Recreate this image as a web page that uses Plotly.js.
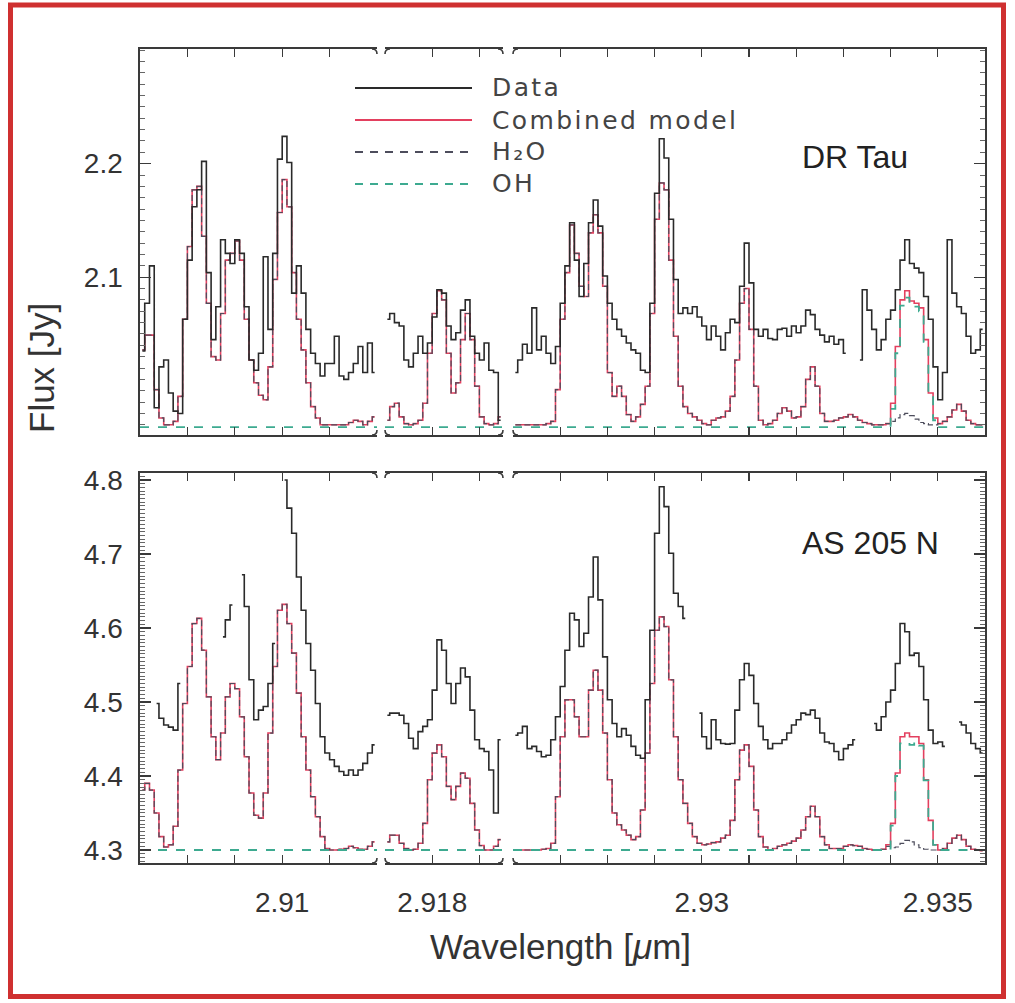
<!DOCTYPE html>
<html><head><meta charset="utf-8">
<script src="https://cdn.plot.ly/plotly-3.0.1.min.js"></script>
<style>html,body{margin:0;padding:0;background:#fff}#chart{width:1015px;height:1003px}</style>
</head><body><div id="chart"></div>
<script>
// ---------------- DATA ----------------
// wavelength sampling (micron): bins of 0.0001 starting at each segment start
const binStep = 0.0001;
const seg1Start = 2.9070, seg1Count = 50;
const seg2Start = 2.9170, seg2Count = 25;
const seg3Start = 2.9260, seg3Count = 100;

// DR Tau (top panel)
const topData1 = [2.035,2.077,2.110,1.985,2.021,2.027,1.998,1.982,1.980,2.063,
 2.115,2.162,2.177,2.202,2.104,2.045,2.074,2.133,2.121,2.112,
 2.133,2.121,2.074,2.027,2.018,2.033,2.118,2.054,2.121,2.204,
 2.224,2.201,2.086,2.110,2.086,2.054,2.033,2.024,2.013,2.024,
 2.024,2.048,2.013,2.010,2.016,2.024,2.039,2.016,2.042,2.016];
const topModel1 = [2.036,2.049,2.049,2.001,1.976,1.970,1.970,1.973,1.995,2.063,
 2.127,2.177,2.180,2.136,2.077,2.030,2.027,2.068,2.115,2.121,
 2.132,2.115,2.063,2.027,2.007,1.996,1.992,2.021,2.098,2.157,
 2.186,2.162,2.104,2.063,2.036,2.007,1.986,1.976,1.970,1.970,
 1.970,1.970,1.970,1.970,1.972,1.974,1.973,1.970,1.973,1.977];
const topH2O1 = [2.036,2.049,2.049,2.001,1.976,1.970,1.970,1.973,1.995,2.063,
 2.127,2.177,2.180,2.136,2.077,2.030,2.027,2.068,2.115,2.121,
 2.132,2.115,2.063,2.027,2.007,1.996,1.992,2.021,2.098,2.157,
 2.186,2.162,2.104,2.063,2.036,2.007,1.986,1.976,1.970,1.970,
 1.970,1.970,1.970,1.970,1.972,1.974,1.973,1.970,1.973,1.977];
const topData2 = [2.063,2.068,2.060,2.057,2.027,2.021,2.033,2.048,2.033,2.042,
 2.065,2.089,2.086,2.057,2.045,2.051,2.071,2.080,2.048,2.033,
 2.027,2.042,2.018,2.016,1.974];
const topModel2 = [1.974,1.986,1.989,1.977,1.971,1.970,1.971,1.974,1.989,2.033,
 2.068,2.088,2.080,2.033,1.998,2.007,2.045,2.068,2.045,2.004,
 1.977,1.971,1.970,1.971,1.977];
const topH2O2 = [1.974,1.986,1.989,1.977,1.971,1.970,1.971,1.974,1.989,2.033,
 2.068,2.088,2.080,2.033,1.998,2.007,2.045,2.068,2.045,2.004,
 1.977,1.971,1.970,1.971,1.977];
const topData3 = [2.016,2.027,2.041,2.033,2.073,2.036,2.048,2.033,2.024,2.039,
 2.077,2.110,2.148,2.115,2.083,2.112,2.148,2.168,2.145,2.101,
 2.077,2.063,2.054,2.048,2.042,2.036,2.033,2.018,2.016,2.077,
 2.174,2.222,2.205,2.151,2.098,2.068,2.073,2.068,2.074,2.065,
 2.057,2.045,2.057,2.048,2.036,2.051,2.063,2.060,2.092,2.130,
 2.095,2.054,2.048,2.054,2.046,2.045,2.054,2.055,2.048,2.057,
 2.051,2.057,2.071,2.067,2.054,2.049,2.043,2.048,2.041,2.045,
 2.033,null,null,2.027,2.089,2.071,2.054,2.036,2.045,2.063,
 2.071,2.089,2.115,2.133,2.112,2.108,2.104,2.083,2.063,2.021,
 1.992,2.016,2.133,2.086,2.074,2.068,2.048,2.033,2.036,2.054];
const topModel3 = [1.970,1.970,1.970,1.970,1.970,1.970,1.970,1.971,1.973,2.001,
 2.063,2.104,2.146,2.121,2.092,2.083,2.139,2.155,2.139,2.092,
 2.016,1.995,2.004,1.995,1.979,1.973,1.977,1.988,2.004,2.068,
 2.151,2.183,2.177,2.115,2.048,2.004,1.986,1.980,1.977,1.974,
 1.971,1.970,1.974,1.976,1.977,1.982,1.995,2.027,2.077,2.090,
 2.054,2.004,1.974,1.970,1.971,1.974,1.980,1.985,1.982,1.976,
 1.977,1.986,2.010,2.021,2.004,1.980,1.973,1.973,1.974,1.976,
 1.977,1.979,1.977,1.974,1.972,1.971,1.970,1.970,1.970,1.971,
 1.989,2.039,2.080,2.088,2.079,2.077,2.073,2.045,1.998,1.976,
 1.971,1.973,1.977,1.983,1.988,1.982,1.974,1.971,1.970,1.970];
const topH2O3 = [1.970,1.970,1.970,1.970,1.970,1.970,1.970,1.971,1.973,2.001,
 2.063,2.104,2.146,2.121,2.092,2.083,2.139,2.155,2.139,2.092,
 2.016,1.995,2.004,1.995,1.979,1.973,1.977,1.988,2.004,2.068,
 2.151,2.183,2.177,2.115,2.048,2.004,1.986,1.980,1.977,1.974,
 1.971,1.970,1.974,1.976,1.977,1.982,1.995,2.027,2.077,2.090,
 2.054,2.004,1.974,1.970,1.971,1.974,1.980,1.985,1.982,1.976,
 1.977,1.986,2.010,2.021,2.004,1.980,1.973,1.973,1.974,1.976,
 1.977,1.979,1.977,1.974,1.972,1.971,1.970,1.970,1.970,1.971,
 1.973,1.976,1.979,1.980,1.978,1.975,1.972,1.971,1.970,1.970,
 1.971,1.973,1.977,1.983,1.988,1.982,1.974,1.971,1.970,1.970];

// OH model (sparse: flat continuum plus the line near 2.9344 um)
const ohWave1 = [2.9070, 2.9120];
const ohWave2 = [2.9170, 2.9195];
const ohWave3 = [2.9260,2.93385,2.93395,2.93405,2.93415,2.93425,2.93435,2.93445,
 2.93455,2.93465,2.93475,2.93485,2.93495,2.93505,2.9360];
const topOH1 = [1.968, 1.968];
const topOH2 = [1.968, 1.968];
const topOH3 = [1.968,1.968,1.968,1.984,2.033,2.075,2.082,2.076,2.074,2.070,2.043,1.996,1.974,1.968,1.968];

// AS 205 N (bottom panel)
const botData1 = [null,null,null,4.498,4.478,4.469,4.466,4.462,4.525,null,
 null,null,null,null,null,null,null,4.588,4.611,4.631,
 null,4.672,4.629,4.530,4.476,4.489,4.494,4.525,4.579,null,
 4.800,4.762,4.728,4.669,4.624,4.579,4.543,4.498,4.453,4.431,
 4.422,4.413,4.406,4.401,4.408,4.401,4.408,4.417,4.431,4.442];
const botModel1 = [4.381,4.390,4.381,4.350,4.318,4.304,4.307,4.332,4.408,4.498,
 4.548,4.606,4.613,4.570,4.507,4.453,4.422,4.458,4.507,4.525,
 4.518,4.480,4.426,4.377,4.347,4.343,4.377,4.458,4.548,4.624,
 4.632,4.606,4.566,4.512,4.453,4.408,4.372,4.345,4.318,4.302,
 4.300,4.300,4.301,4.302,4.305,4.303,4.301,4.301,4.305,4.311];
const botH2O1 = [4.381,4.390,4.381,4.350,4.318,4.304,4.307,4.332,4.408,4.498,
 4.548,4.606,4.613,4.570,4.507,4.453,4.422,4.458,4.507,4.525,
 4.518,4.480,4.426,4.377,4.347,4.343,4.377,4.458,4.548,4.624,
 4.632,4.606,4.566,4.512,4.453,4.408,4.372,4.345,4.318,4.302,
 4.300,4.300,4.301,4.302,4.305,4.303,4.301,4.301,4.305,4.311];
const botData2 = [4.482,4.485,4.485,4.482,4.471,4.451,4.437,4.460,4.467,4.476,
 4.516,4.584,4.570,4.525,4.498,4.525,4.546,4.534,4.489,4.449,
 4.437,4.433,4.408,4.350,4.449];
const botModel2 = [4.311,4.320,4.320,4.309,4.302,4.300,4.301,4.309,4.336,4.395,
 4.431,4.442,4.426,4.386,4.368,4.386,4.404,4.397,4.363,4.327,
 4.306,4.300,4.300,4.305,4.314];
const botH2O2 = [4.311,4.320,4.320,4.309,4.302,4.300,4.301,4.309,4.336,4.395,
 4.431,4.442,4.426,4.386,4.368,4.386,4.404,4.397,4.363,4.327,
 4.306,4.300,4.300,4.305,4.314];
const botData3 = [4.455,4.458,4.467,4.437,4.440,4.433,4.426,4.428,4.449,4.480,
 4.521,4.570,4.620,4.611,4.575,4.593,4.642,4.696,4.638,4.561,
 4.503,4.471,4.453,4.464,4.455,4.440,4.428,4.424,4.503,4.597,
 4.728,4.791,4.764,4.701,4.647,4.629,4.613,null,null,4.485,
 4.453,4.437,4.476,4.449,4.444,4.443,4.444,4.489,4.530,4.552,
 4.536,4.498,4.467,4.449,4.437,4.444,4.444,4.449,4.458,4.469,
 4.476,4.485,4.483,4.489,4.478,4.458,4.446,4.444,4.433,4.422,
 4.437,4.442,4.449,null,null,null,4.471,4.462,4.480,4.500,
 4.516,4.552,4.606,4.595,4.563,4.566,4.548,4.503,4.462,4.444,
 4.446,4.440,null,null,4.473,4.469,4.458,4.444,4.437,4.431];
const botModel3 = [4.300,4.300,4.300,4.300,4.300,4.300,4.301,4.302,4.309,4.372,
 4.453,4.503,4.503,4.480,4.453,4.453,4.516,4.543,4.516,4.458,
 4.395,4.350,4.334,4.327,4.320,4.314,4.318,4.354,4.431,4.525,
 4.597,4.615,4.602,4.530,4.453,4.395,4.363,4.336,4.318,4.309,
 4.307,4.308,4.310,4.311,4.316,4.320,4.340,4.395,4.435,4.442,
 4.413,4.354,4.318,4.304,4.300,4.302,4.305,4.307,4.309,4.312,
 4.316,4.327,4.345,4.359,4.345,4.318,4.307,4.302,4.302,4.302,
 4.305,4.307,4.306,4.305,4.302,4.301,4.300,4.300,4.301,4.307,
 4.336,4.404,4.453,4.458,4.453,4.453,4.444,4.395,4.340,4.307,
 4.300,4.302,4.309,4.316,4.320,4.314,4.305,4.301,4.300,4.299];
const botH2O3 = [4.300,4.300,4.300,4.300,4.300,4.300,4.301,4.302,4.309,4.372,
 4.453,4.503,4.503,4.480,4.453,4.453,4.516,4.543,4.516,4.458,
 4.395,4.350,4.334,4.327,4.320,4.314,4.318,4.354,4.431,4.525,
 4.597,4.615,4.602,4.530,4.453,4.395,4.363,4.336,4.318,4.309,
 4.307,4.308,4.310,4.311,4.316,4.320,4.340,4.395,4.435,4.442,
 4.413,4.354,4.318,4.304,4.300,4.302,4.305,4.307,4.309,4.312,
 4.316,4.327,4.345,4.359,4.345,4.318,4.307,4.302,4.302,4.302,
 4.305,4.307,4.306,4.305,4.302,4.301,4.300,4.300,4.301,4.305,
 4.303,4.304,4.309,4.313,4.311,4.307,4.303,4.301,4.300,4.300,
 4.300,4.302,4.309,4.316,4.320,4.314,4.305,4.301,4.300,4.299];
const botOH1 = [4.300, 4.300];
const botOH2 = [4.300, 4.300];
const botOH3 = [4.300,4.300,4.302,4.333,4.400,4.444,4.445,4.442,4.446,4.441,4.394,4.340,4.307,4.300,4.300];

// tick values / labels
const seg1Ticks = [2.908, 2.909, 2.910, 2.911];
const seg1Labels = ['', '', '2.91', ''];
const seg2Ticks = [2.918, 2.919];
const seg2Labels = ['2.918', ''];
const seg3Ticks = [2.927, 2.928, 2.929, 2.930, 2.931, 2.932, 2.933, 2.934, 2.935];
const seg3Labels = ['', '', '', '2.93', '', '', '', '', '2.935'];
const topYTicks = [2.1, 2.2];
const topYLabels = ['2.1', '2.2'];
const botYTicks = [4.3, 4.4, 4.5, 4.6, 4.7, 4.8];
const botYLabels = ['4.3', '4.4', '4.5', '4.6', '4.7', '4.8'];
const seriesNames = ['Data', 'Combined model', 'H₂O', 'OH'];
const panelNames = ['DR Tau', 'AS 205 N'];

// ---------------- BUILD ----------------
function grid(start, n) { const a = []; for (let i = 0; i < n; i++) a.push(+(start + (i + 0.5) * binStep).toFixed(6)); return a; }
const wave1 = grid(seg1Start, seg1Count), wave2 = grid(seg2Start, seg2Count), wave3 = grid(seg3Start, seg3Count);

const W = 1015, H = 1003;
const px = v => v / W, py = v => 1 - v / H;
const segPx = [[140, 377], [385, 503], [513, 985]];
const panelPx = [[49, 435], [473, 863]];
const segRange = [[2.9070, 2.9120], [2.9170, 2.9195], [2.9260, 2.9360]];
const yRanges = [[1.961, 2.301], [4.2824, 4.8095]];

const colData = '#2a2a2a', colModel = '#e3405f', colH2O = '#4d4d5c', colOH = '#3daa90', colAxis = '#3a3a3a';

const waves = [wave1, wave2, wave3];
const ohWaves = [ohWave1, ohWave2, ohWave3];
const panels = [
  {data: [topData1, topData2, topData3], model: [topModel1, topModel2, topModel3], h2o: [topH2O1, topH2O2, topH2O3], oh: [topOH1, topOH2, topOH3]},
  {data: [botData1, botData2, botData3], model: [botModel1, botModel2, botModel3], h2o: [botH2O1, botH2O2, botH2O3], oh: [botOH1, botOH2, botOH3]}
];

const traces = [];
panels.forEach((p, pi) => {
  for (let s = 0; s < 3; s++) {
    const n = pi * 3 + s + 1;
    const xa = n === 1 ? 'x' : 'x' + n, ya = n === 1 ? 'y' : 'y' + n;
    traces.push({x: waves[s], y: p.model[s], xaxis: xa, yaxis: ya, mode: 'lines', name: seriesNames[1],
      line: {color: colModel, width: 1.6, shape: 'hvh'}, showlegend: false, hoverinfo: 'skip'});
    traces.push({x: waves[s], y: p.h2o[s], xaxis: xa, yaxis: ya, mode: 'lines', name: seriesNames[2],
      line: {color: colH2O, width: 1.2, shape: 'hvh', dash: '6px,3px'}, showlegend: false, hoverinfo: 'skip'});
    traces.push({x: ohWaves[s], y: p.oh[s], xaxis: xa, yaxis: ya, mode: 'lines', name: seriesNames[3],
      line: {color: colOH, width: 1.8, shape: 'hvh', dash: '9px,9px'}, showlegend: false, hoverinfo: 'skip'});
    traces.push({x: waves[s], y: p.data[s], xaxis: xa, yaxis: ya, mode: 'lines', name: seriesNames[0],
      line: {color: colData, width: 1.6, shape: 'hvh'}, connectgaps: false, showlegend: false, hoverinfo: 'skip'});
  }
});

const tickFont = {family: 'Liberation Sans, Arial, sans-serif', size: 28, color: '#333'};
const xTicks = [[seg1Ticks, seg1Labels], [seg2Ticks, seg2Labels], [seg3Ticks, seg3Labels]];
const layout = {
  width: W, height: H, margin: {l: 0, r: 0, t: 0, b: 0, pad: 0},
  paper_bgcolor: '#fff', plot_bgcolor: 'rgba(0,0,0,0)', showlegend: false,
  shapes: [], annotations: []
};
for (let pi = 0; pi < 2; pi++) {
  for (let s = 0; s < 3; s++) {
    const n = pi * 3 + s + 1;
    const xk = n === 1 ? 'xaxis' : 'xaxis' + n, yk = n === 1 ? 'yaxis' : 'yaxis' + n;
    const xid = n === 1 ? 'x' : 'x' + n, yid = n === 1 ? 'y' : 'y' + n;
    layout[xk] = {
      domain: [px(segPx[s][0]), px(segPx[s][1])], range: segRange[s], anchor: yid,
      showline: true, linecolor: colAxis, linewidth: 1.6, mirror: 'ticks',
      ticks: 'inside', ticklen: 8, tickwidth: 1.2, tickcolor: colAxis,
      tickmode: 'array', tickvals: xTicks[s][0], ticktext: xTicks[s][1],
      showticklabels: pi === 1, tickfont: tickFont, ticklabelstandoff: 14,
      showgrid: false, zeroline: false, fixedrange: true
    };
    const yv = pi === 0 ? topYTicks : botYTicks, yl = pi === 0 ? topYLabels : botYLabels;
    layout[yk] = {
      domain: [py(panelPx[pi][1]), py(panelPx[pi][0])], range: yRanges[pi], anchor: xid,
      visible: s !== 1, side: s === 2 ? 'right' : 'left',
      showline: true, linecolor: colAxis, linewidth: 1.6, mirror: false,
      ticks: 'inside', ticklen: 11, tickwidth: 1.2, tickcolor: colAxis,
      tickmode: 'array', tickvals: yv, ticktext: yl,
      minor: {ticks: 'inside', ticklen: 5, tickwidth: 1, tickcolor: '#666', tickmode: 'linear', tick0: pi === 0 ? 1.96 : 4.28, dtick: pi === 0 ? 0.01 : 0.005, showgrid: false},
      showticklabels: s === 0, tickfont: tickFont, ticklabelstandoff: 10,
      showgrid: false, zeroline: false, fixedrange: true
    };
  }
}

// segment break curls
function curl(x, y, dx, dy) {
  return {type: 'path', xref: 'paper', yref: 'paper', layer: 'above',
    path: `M ${px(x + dx * 5)} ${py(y)} Q ${px(x)} ${py(y)} ${px(x)} ${py(y + dy * 5)}`,
    line: {color: colAxis, width: 1.6}};
}
panelPx.forEach(([top, bot]) => {
  [[377, -1], [385, 1], [503, -1], [513, 1]].forEach(([x, d]) => {
    layout.shapes.push(curl(x, top, d, 1));
    layout.shapes.push(curl(x, bot, d, -1));
  });
});

// legend (manual)
const legY = [88, 120, 152, 184];
const legStyle = [
  {color: colData, width: 1.8}, {color: colModel, width: 1.8},
  {color: colH2O, width: 1.8, dash: '8px,7px'}, {color: colOH, width: 1.8, dash: '8px,7px'}
];
legY.forEach((y, i) => {
  layout.shapes.push({type: 'line', xref: 'paper', yref: 'paper', x0: px(355), x1: px(472), y0: py(y), y1: py(y), line: legStyle[i]});
  layout.annotations.push({xref: 'paper', yref: 'paper', x: px(490), y: py(y), xanchor: 'left', yanchor: 'middle', align: 'left',
    text: seriesNames[i], showarrow: false, font: {family: 'DejaVu Sans, Liberation Sans, sans-serif', size: 25, color: '#444'}});
});

// panel labels
layout.annotations.push({xref: 'paper', yref: 'paper', x: px(855), y: py(157), xanchor: 'center', yanchor: 'middle',
  text: panelNames[0], showarrow: false, font: {family: 'Liberation Sans, Arial, sans-serif', size: 32, color: '#222'}});
layout.annotations.push({xref: 'paper', yref: 'paper', x: px(870), y: py(543), xanchor: 'center', yanchor: 'middle',
  text: panelNames[1], showarrow: false, font: {family: 'Liberation Sans, Arial, sans-serif', size: 32, color: '#222'}});

// axis titles
layout.annotations.push({xref: 'paper', yref: 'paper', x: px(560), y: py(946), xanchor: 'center', yanchor: 'middle',
  text: 'Wavelength [<i>μ</i>m]', showarrow: false, font: {family: 'Liberation Sans, Arial, sans-serif', size: 35, color: '#333'}});
layout.annotations.push({xref: 'paper', yref: 'paper', x: px(42), y: py(368), xanchor: 'center', yanchor: 'middle', textangle: -90,
  text: 'Flux [Jy]', showarrow: false, font: {family: 'Liberation Sans, Arial, sans-serif', size: 35, color: '#333'}});

// red outer frame
layout.shapes.push({type: 'rect', xref: 'paper', yref: 'paper', x0: px(10.5), x1: px(1003.5), y0: py(996.5), y1: py(5),
  line: {color: '#cf3030', width: 5}, fillcolor: 'rgba(0,0,0,0)', layer: 'above'});

Plotly.newPlot('chart', traces, layout, {staticPlot: true, displayModeBar: false}).then(() => {
  // the reference legend uses a wide, airy face: open up the letter spacing of the legend labels
  const texts = document.querySelectorAll('#chart .annotation-text');
  for (let i = 0; i < 4 && i < texts.length; i++) texts[i].style.letterSpacing = '2.4px';
});
</script></body></html>
